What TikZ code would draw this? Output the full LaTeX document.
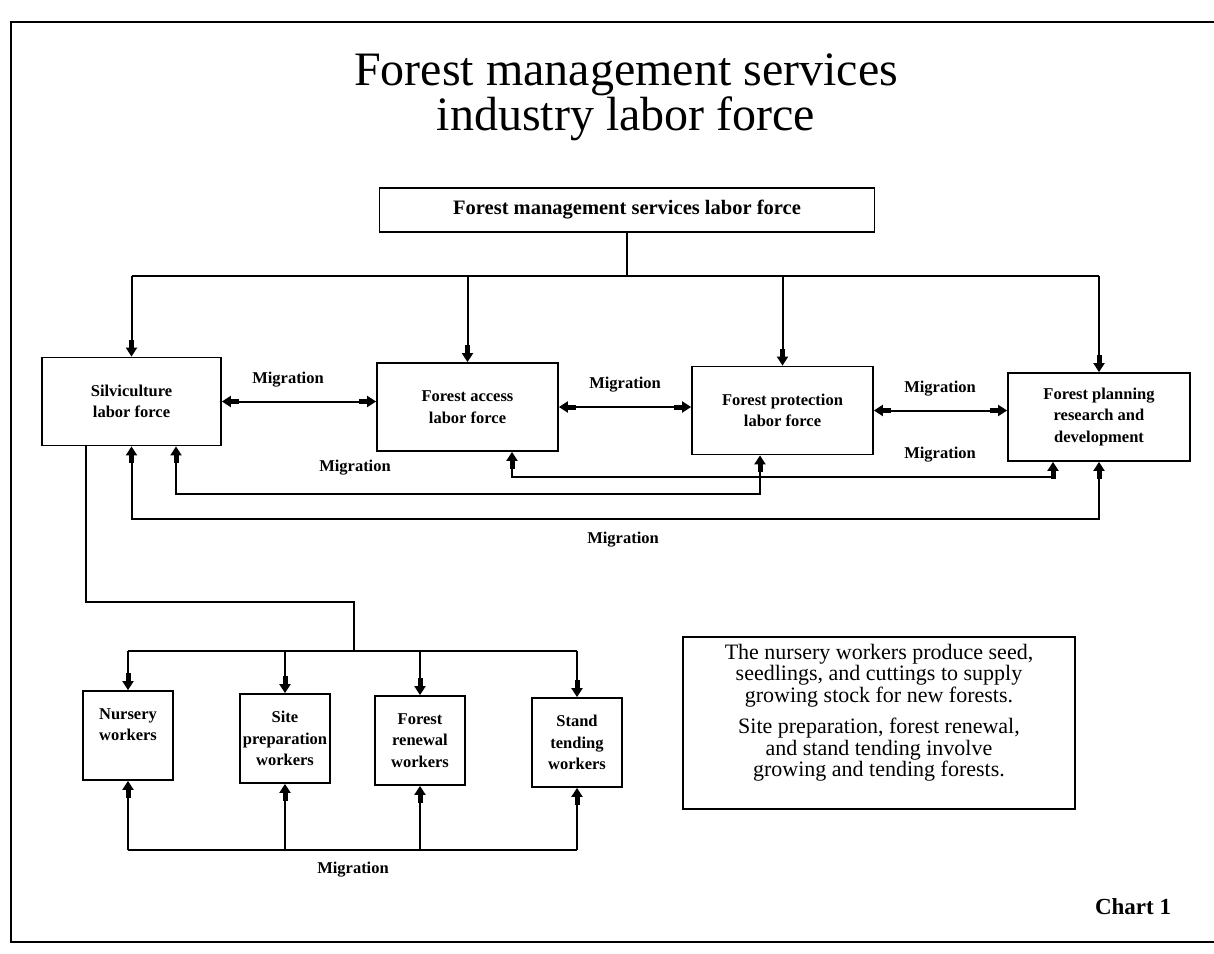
\documentclass[tikz,border=0pt]{standalone}
\usepackage{fontspec}
\setmainfont{Liberation Serif}
\usetikzlibrary{arrows.meta}
\begin{document}
\begin{tikzpicture}[x=1pt, y=1pt, line width=2pt, every node/.style={inner sep=0pt}]
\tikzstyle{lab}=[font=\fontsize{16.5}{21.5}\selectfont\bfseries, align=center]
\tikzstyle{bigbox}=[lab, draw, line width=1.8pt, minimum width=181pt, minimum height=88pt]
\tikzstyle{smallbox}=[lab, draw, line width=1.8pt, minimum width=90pt, minimum height=89pt]
\tikzstyle{arr}=[arrows=-{Rectangle[length=12pt,width=5pt,sep=-4pt]Triangle[length=9pt,width=11pt,sep=0pt]}]
\tikzstyle{darr}=[arrows={Triangle[length=9pt,width=11pt,sep=0pt]Rectangle[length=12pt,width=5pt,sep=-4pt]}-{Rectangle[length=12pt,width=5pt,sep=-4pt]Triangle[length=9pt,width=11pt,sep=0pt]}]
\useasboundingbox (0,0) rectangle (1214,-953);
\draw[line width=2.4pt] (1214,-22) -| (11,-942) -- (1214,-942);
\node[anchor=north, align=center, font=\fontsize{48}{40}\selectfont] (title) at (626,-53) {Forest management services\\industry labor force};
\node[draw, line width=1.8pt, minimum width=495pt, minimum height=44pt, font=\fontsize{20.5}{24}\selectfont\bfseries] (flf) at (627,-210) {Forest management services labor force};
\node[bigbox, minimum width=179pt] (silv) at (131.5,-401.5) {Silviculture\\labor force};
\node[bigbox] (access) at (467.5,-407) {Forest access\\labor force};
\node[bigbox] (prot) at (782.5,-410.5) {Forest protection\\labor force};
\node[bigbox, minimum width=182pt] (plan) at (1099,-417) {Forest planning\\research and\\development};
\node[smallbox] (nurs) at (128,-735.5) {Nursery\\workers\\~};
\node[smallbox] (site) at (285,-738.5) {Site\\preparation\\workers};
\node[smallbox] (renew) at (420,-740.5) {Forest\\renewal\\workers};
\node[smallbox] (stand) at (577,-742.5) {Stand\\tending\\workers};
\node[lab] (mig1) at (288,-380) {Migration};
\node[lab] (mig2) at (625,-385) {Migration};
\node[lab] (mig3) at (940,-389) {Migration};
\node[lab] (mig4) at (355,-468) {Migration};
\node[lab] (mig5) at (940,-455) {Migration};
\node[lab] (mig6) at (623,-540) {Migration};
\node[lab] (mig7) at (353,-870) {Migration};
\node[draw, line width=1.8pt, minimum width=392pt, minimum height=172pt, align=center, font=\fontsize{22}{21.5}\selectfont] (note) at (879,-723) {The nursery workers produce seed,\\seedlings, and cuttings to supply\\growing stock for new forests.\\[10pt]Site preparation, forest renewal,\\and stand tending involve\\growing and tending forests.\\[4pt]~};
\node[font=\fontsize{23}{27}\selectfont\bfseries] (chart) at (1133,-907) {Chart 1};
\coordinate (busL) at (131.5,-276);
\coordinate (busR) at (1099,-276);
\coordinate (lo) at (600,-519);
\coordinate (mid) at (470,-494);
\coordinate (hi) at (780,-477);
\coordinate (jog) at (354,-602);
\coordinate (wbusL) at (128,-651);
\coordinate (wbusR) at (577,-651);
\coordinate (wlo) at (128,-850);
\draw (flf.south) -- (flf.south |- busL);
\draw (busL) -- (busR);
\draw[arr] (busL) -- (silv.north);
\draw[arr] (access.north |- busL) -- (access.north);
\draw[arr] (prot.north |- busL) -- (prot.north);
\draw[arr] (busR) -- (plan.north);
\draw[darr] (silv.east) -- (silv.east -| access.west);
\draw[darr] (access.east) -- (access.east -| prot.west);
\draw[darr] (prot.east) -- (prot.east -| plan.west);
\draw[darr] (silv.south) |- (lo) -| (plan.south);
\draw[darr] ([xshift=44.5pt]silv.south) |- (mid) -| ([xshift=-22.5pt]prot.south);
\draw[darr] ([xshift=44.5pt]access.south) |- (hi) -| ([xshift=-46pt]plan.south);
\draw ([xshift=-45.5pt]silv.south) |- (jog) -- (jog |- wbusL);
\draw (wbusL) -- (wbusR);
\draw[arr] (wbusL) -- (nurs.north);
\draw[arr] (site.north |- wbusL) -- (site.north);
\draw[arr] (renew.north |- wbusL) -- (renew.north);
\draw[arr] (wbusR) -- (stand.north);
\draw (wlo) -- (wlo -| stand.south);
\draw[arr] (wlo) -- (nurs.south);
\draw[arr] (site.south |- wlo) -- (site.south);
\draw[arr] (renew.south |- wlo) -- (renew.south);
\draw[arr] (stand.south |- wlo) -- (stand.south);
\end{tikzpicture}
\end{document}
